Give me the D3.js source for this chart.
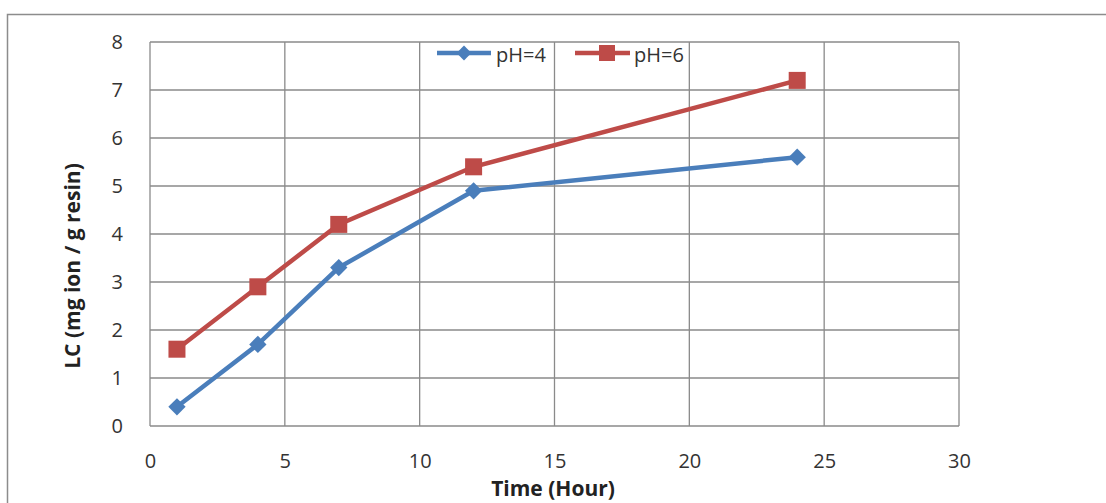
<!DOCTYPE html>
<html><head><meta charset="utf-8">
<script src="https://cdn.jsdelivr.net/npm/d3@7"></script>
<style>body{margin:0;background:#fff;}svg{display:block;}</style>
</head><body>
<script>
const times = [1, 4, 7, 12, 24];
const ph4 = [0.4, 1.7, 3.3, 4.9, 5.6];
const ph6 = [1.6, 2.9, 4.2, 5.4, 7.2];
const seriesNames = ["pH=4", "pH=6"];
const xTicks = [0, 5, 10, 15, 20, 25, 30];
const yTicks = [0, 1, 2, 3, 4, 5, 6, 7, 8];

const W = 1106, H = 503;
const svg = d3.select("body").append("svg").attr("width", W).attr("height", H);
svg.append("rect").attr("x", 7.5).attr("y", 14.5).attr("width", 1200).attr("height", 600)
  .attr("fill", "#fff").attr("stroke", "#8c8c8c").attr("stroke-width", 1.5);

const L = 150, R = 959, T = 42, B = 426;
const x = d3.scaleLinear().domain([0, 30]).range([L, R]);
const y = d3.scaleLinear().domain([0, 8]).range([B, T]);
const font = "'Open Sans', 'DejaVu Sans', sans-serif";
const grid = "#8a8a8a";

// gridlines
svg.append("g").selectAll("line.v").data(xTicks).join("line")
  .attr("x1", d => x(d)).attr("x2", d => x(d)).attr("y1", T).attr("y2", B)
  .attr("stroke", grid).attr("stroke-width", 1.3);
svg.append("g").selectAll("line.h").data(yTicks).join("line")
  .attr("x1", L).attr("x2", R).attr("y1", d => y(d)).attr("y2", d => y(d))
  .attr("stroke", grid).attr("stroke-width", 1.3);

// axes labels
const xAxis = d3.axisBottom(x).tickValues(xTicks).tickSize(0).tickPadding(28);
const gx = svg.append("g").attr("transform", `translate(0,${B})`).call(xAxis);
gx.select(".domain").remove();
gx.selectAll("text").attr("font-family", font).attr("font-size", 20).attr("fill", "#333");
const yAxis = d3.axisLeft(y).tickValues(yTicks).tickSize(0).tickPadding(27);
const gy = svg.append("g").attr("transform", `translate(${L},0)`).call(yAxis);
gy.select(".domain").remove();
gy.selectAll("text").attr("font-family", font).attr("font-size", 20).attr("fill", "#333");

svg.append("text").attr("x", 553).attr("y", 496).attr("text-anchor", "middle")
  .attr("font-family", font).attr("font-weight", "bold").attr("font-size", 21).attr("fill", "#222")
  .text("Time (Hour)");
svg.append("text").attr("transform", `translate(80,${(T+B)/2 + 32}) rotate(-90)`).attr("text-anchor", "middle")
  .attr("font-family", font).attr("font-weight", "bold").attr("font-size", 21).attr("fill", "#222")
  .text("LC (mg ion / g resin)");

const blue = "#4a7ebb", red = "#be4b48";
const line = d3.line().x(d => x(d[0])).y(d => y(d[1]));
const d4 = times.map((t, i) => [t, ph4[i]]);
const d6 = times.map((t, i) => [t, ph6[i]]);

svg.append("path").datum(d6).attr("d", line).attr("fill", "none").attr("stroke", red).attr("stroke-width", 4.5);
svg.append("path").datum(d4).attr("d", line).attr("fill", "none").attr("stroke", blue).attr("stroke-width", 4.5);

const sq = 17;
svg.append("g").selectAll("rect").data(d6).join("rect")
  .attr("x", d => x(d[0]) - sq/2).attr("y", d => y(d[1]) - sq/2).attr("width", sq).attr("height", sq)
  .attr("fill", red);
svg.append("g").selectAll("path").data(d4).join("path")
  .attr("transform", d => `translate(${x(d[0])},${y(d[1])}) rotate(45)`)
  .attr("d", d3.symbol().type(d3.symbolSquare).size(150)).attr("fill", blue);

// legend
const lg = svg.append("g");
lg.append("line").attr("x1", 437).attr("x2", 491).attr("y1", 53).attr("y2", 53).attr("stroke", blue).attr("stroke-width", 4.5);
lg.append("path").attr("transform", "translate(464,53) rotate(45)").attr("d", d3.symbol().type(d3.symbolSquare).size(110)).attr("fill", blue);
lg.append("text").attr("x", 496).attr("y", 62).attr("font-family", font).attr("font-size", 20).attr("fill", "#333").text(seriesNames[0]);
lg.append("line").attr("x1", 575).attr("x2", 630).attr("y1", 53).attr("y2", 53).attr("stroke", red).attr("stroke-width", 4.5);
lg.append("rect").attr("x", 599).attr("y", 45).attr("width", 16).attr("height", 16).attr("fill", red);
lg.append("text").attr("x", 634).attr("y", 62).attr("font-family", font).attr("font-size", 20).attr("fill", "#333").text(seriesNames[1]);
</script>
</body></html>
